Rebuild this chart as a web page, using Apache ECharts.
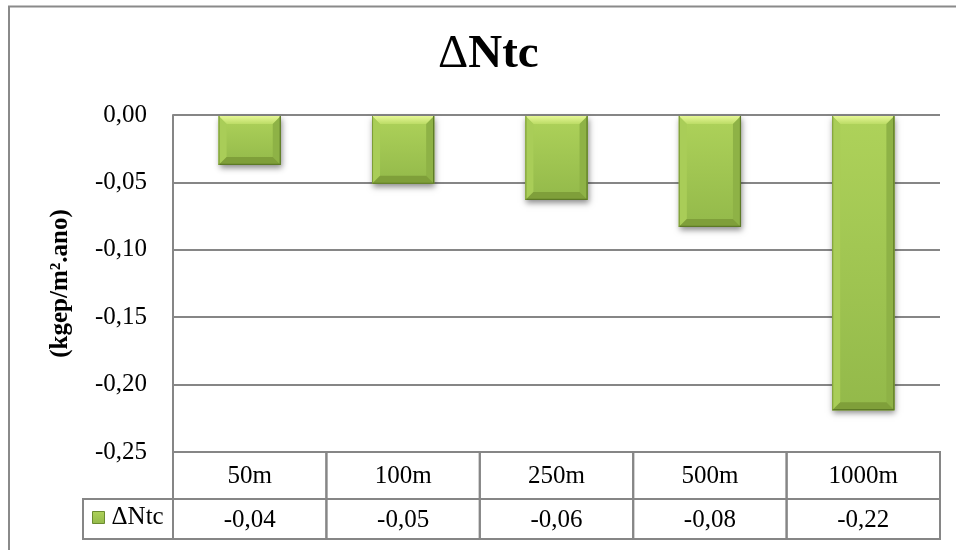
<!DOCTYPE html>
<html>
<head>
<meta charset="utf-8">
<title>ΔNtc</title>
<script src="https://cdn.jsdelivr.net/npm/echarts@6/dist/echarts.min.js"></script>
<style>
  html, body { margin: 0; padding: 0; background: #ffffff; }
  #chart { width: 956px; height: 550px; }
</style>
</head>
<body>
<div id="chart"></div>
<script>
// Distance categories and the ΔNtc change for each one (kgep/m².ano)
const categories = ['50m', '100m', '250m', '500m', '1000m'];
const deltaNtc = [-0.037, -0.051, -0.063, -0.083, -0.219];
const seriesName = 'ΔNtc';
const yTicks = { min: -0.25, max: 0, step: 0.05 };

const SERIF = '"Liberation Serif", "Times New Roman", serif';
const LINE = '#868686';

const fmt = (v, d) => v.toFixed(d).replace('.', ',');

// Green face colour used for the bars and the legend key
const faceGradient = new echarts.graphic.LinearGradient(0, 0, 0, 1, [
  { offset: 0, color: '#aed25a' },
  { offset: 1, color: '#93b94a' }
]);

// Beveled bar, drawn from the value axis coordinates
function renderBevelBar(params, api) {
  const idx = api.value(0);
  const val = api.value(1);
  const p0 = api.coord([idx, 0]);
  const p1 = api.coord([idx, val]);
  const w = api.size([1, 0])[0] * 0.405;
  const x = p0[0] - w / 2;
  const y = p0[1] + 1;
  const h = p1[1] - y;
  const b = Math.min(8, h / 3);
  const poly = (pts, fill) => ({ type: 'polygon', shape: { points: pts }, style: { fill: fill } });
  return {
    type: 'group',
    children: [
      {
        type: 'rect',
        shape: { x: x, y: y, width: w, height: h },
        style: {
          fill: '#8aab42',
          shadowBlur: 6,
          shadowOffsetX: 1,
          shadowOffsetY: 3,
          shadowColor: 'rgba(0,0,0,0.45)'
        }
      },
      { type: 'rect', shape: { x: x, y: y, width: w, height: h }, style: { fill: faceGradient } },
      // top bevel
      poly([[x, y], [x + w, y], [x + w - b, y + b], [x + b, y + b]],
        new echarts.graphic.LinearGradient(0, 0, 0, 1, [
          { offset: 0, color: '#e6f795' },
          { offset: 1, color: '#bcdc66' }
        ])),
      // left bevel
      poly([[x, y], [x + b, y + b], [x + b, y + h - b], [x, y + h]], '#a9cd58'),
      // right bevel
      poly([[x + w, y], [x + w - b, y + b], [x + w - b, y + h - b], [x + w, y + h]], '#8eb246'),
      // bottom bevel
      poly([[x, y + h], [x + b, y + h - b], [x + w - b, y + h - b], [x + w, y + h]], '#7f9f3a'),
      // dark rim on the right and bottom edges
      {
        type: 'polyline',
        shape: { points: [[x + w - 0.5, y], [x + w - 0.5, y + h - 0.5], [x, y + h - 0.5]] },
        style: { stroke: '#5d7a26', lineWidth: 1.2, fill: null }
      },
      {
        type: 'line',
        shape: { x1: x + 0.5, y1: y, x2: x + 0.5, y2: y + h },
        style: { stroke: '#7d9c37', lineWidth: 1 }
      }
    ]
  };
}

// One row of the data table under the plot
function tableRow(texts) {
  return function (params, api) {
    const idx = api.value(0);
    const cs = params.coordSys;
    const cx = api.coord([idx, 0])[0];
    const bw = api.size([1, 0])[0];
    return {
      type: 'group',
      children: [
        {
          type: 'rect',
          shape: { x: cx - bw / 2, y: cs.y, width: bw, height: cs.height },
          style: { fill: null, stroke: LINE, lineWidth: 2 }
        },
        {
          type: 'text',
          x: cx,
          y: cs.y + cs.height / 2 + 1,
          style: {
            text: texts[idx],
            fill: '#000000',
            font: '25px ' + SERIF,
            align: 'center',
            verticalAlign: 'middle'
          }
        }
      ]
    };
  };
}

const barData = deltaNtc.map((v, i) => [i, v]);
const rowData = categories.map((c, i) => [i, 0]);
const valueTexts = deltaNtc.map(v => fmt(v, 2));

const chart = echarts.init(document.getElementById('chart'), null, { renderer: 'canvas' });

const hiddenCat = (gridIndex) => ({
  type: 'category',
  gridIndex: gridIndex,
  data: categories,
  axisLine: { show: false },
  axisTick: { show: false },
  axisLabel: { show: false },
  splitLine: { show: false }
});
const hiddenVal = (gridIndex) => ({
  type: 'value',
  gridIndex: gridIndex,
  min: 0,
  max: 1,
  show: false
});

chart.setOption({
  backgroundColor: '#ffffff',
  animation: false,
  title: {
    text: '{d|Δ}{n|Ntc}',
    left: 433,
    top: 26,
    textStyle: {
      rich: {
        d: { fontFamily: SERIF, fontSize: 47, fontWeight: 'normal', color: '#000' },
        n: { fontFamily: SERIF, fontSize: 47, fontWeight: 'bold', color: '#000' }
      }
    }
  },
  legend: {
    data: [{ name: seriesName, icon: 'rect', itemStyle: { color: faceGradient, borderColor: '#6b8b30', borderWidth: 1 } }],
    left: 92,
    top: 505,
    padding: 0,
    itemWidth: 12,
    itemHeight: 12,
    selectedMode: false,
    textStyle: { fontFamily: SERIF, fontSize: 25, color: '#000', padding: [0, 0, 0, 2] }
  },
  grid: [
    { left: 173, top: 115, width: 767, height: 337 },
    { left: 173, top: 452, width: 767, height: 47 },
    { left: 173, top: 499, width: 767, height: 40 }
  ],
  xAxis: [hiddenCat(0), hiddenCat(1), hiddenCat(2)],
  yAxis: [
    {
      type: 'value',
      gridIndex: 0,
      min: yTicks.min,
      max: yTicks.max,
      interval: yTicks.step,
      name: '(kgep/m².ano)',
      nameLocation: 'middle',
      nameRotate: 90,
      nameGap: 100,
      nameTextStyle: { fontFamily: SERIF, fontSize: 25, fontWeight: 'bold', color: '#000' },
      axisLine: { show: true, lineStyle: { color: LINE, width: 2 } },
      axisTick: { show: false },
      axisLabel: {
        formatter: v => fmt(v, 2),
        fontFamily: SERIF,
        fontSize: 25,
        color: '#000',
        margin: 26
      },
      splitLine: { show: true, lineStyle: { color: LINE, width: 2 } }
    },
    hiddenVal(1),
    hiddenVal(2)
  ],
  graphic: [
    {
      type: 'rect',
      shape: { x: 9, y: 6.5, width: 1000, height: 1000 },
      style: { fill: null, stroke: '#8a8a8a', lineWidth: 2 },
      silent: true
    },
    {
      type: 'rect',
      shape: { x: 83, y: 499, width: 90, height: 40 },
      style: { fill: null, stroke: LINE, lineWidth: 2 },
      silent: true
    }
  ],
  series: [
    {
      name: seriesName,
      type: 'custom',
      xAxisIndex: 0,
      yAxisIndex: 0,
      itemStyle: { color: '#9bbb59' },
      renderItem: renderBevelBar,
      encode: { x: 0, y: 1 },
      data: barData,
      z: 3
    },
    {
      name: 'categories',
      type: 'custom',
      xAxisIndex: 1,
      yAxisIndex: 1,
      renderItem: tableRow(categories),
      encode: { x: 0, y: 1 },
      data: rowData,
      silent: true
    },
    {
      name: 'values',
      type: 'custom',
      xAxisIndex: 2,
      yAxisIndex: 2,
      renderItem: tableRow(valueTexts),
      encode: { x: 0, y: 1 },
      data: rowData,
      silent: true
    }
  ]
});
</script>
</body>
</html>
